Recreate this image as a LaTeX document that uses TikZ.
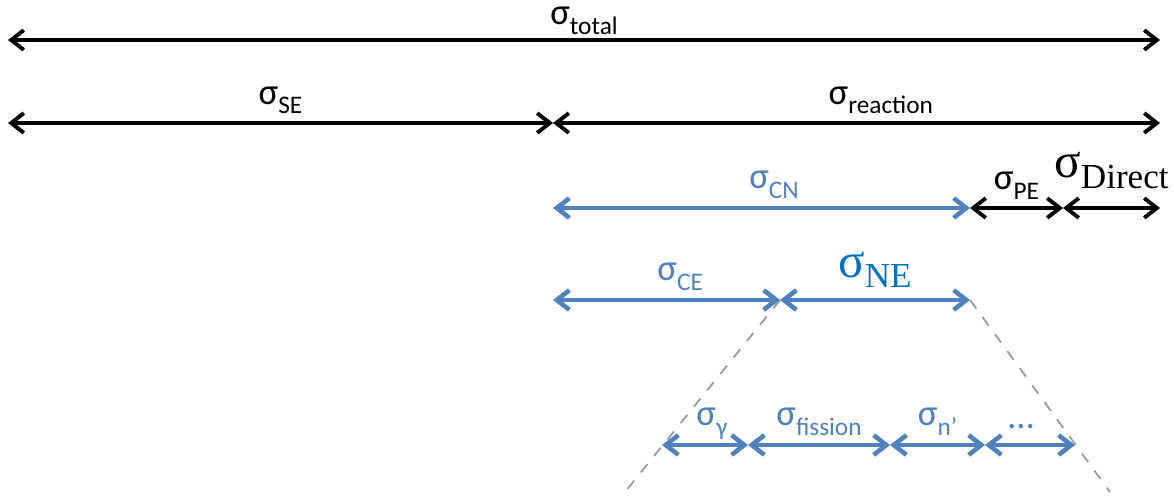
\documentclass[tikz,border=0pt]{standalone}
\usepackage{fontspec}
\setmainfont{Carlito}
\newfontfamily\serifsig{Liberation Serif}
\usetikzlibrary{arrows.meta}
\definecolor{xsblue}{HTML}{4F81BD}
\definecolor{neblue}{HTML}{0070C0}
\newcommand{\xs}[1]{σ\raisebox{-0.55ex}{\fontsize{7.2}{8}\selectfont #1}}
\newcommand{\xsserif}[1]{{\serifsig\fontsize{14}{16}\selectfont σ\raisebox{-0.45ex}{\fontsize{10}{12}\selectfont #1}}}

\begin{document}
\begin{tikzpicture} [x=0.01cm,y=-0.01cm,line width=1.1pt,
    every node/.style={font=\fontsize{10.5}{12}\selectfont,inner sep=1pt},
    span/.style={{Straight Barb[length=3.6pt,width=5.6pt]}-{Straight Barb[length=3.6pt,width=5.6pt]}},
    blk/.style={span,black},
    blu/.style={span,xsblue,line width=1.3pt},
    guide/.style={dashed,gray!80,line width=0.5pt}]
  \useasboundingbox (0,0) rectangle (1174,497);

  % end points of the spans
  \coordinate (t1) at (8,40);    \coordinate (t2) at (1160,40);
  \coordinate (r1) at (8,123);   \coordinate (r2) at (553,123);  \coordinate (r3) at (1160,123);
  \coordinate (c1) at (553,208); \coordinate (c2) at (970,208);  \coordinate (c3) at (1063,208); \coordinate (c4) at (1160,208);
  \coordinate (e1) at (553,300); \coordinate (e2) at (780,300);  \coordinate (e3) at (970,300);
  \coordinate (f1) at (662,445); \coordinate (f2) at (748,445);  \coordinate (f3) at (890,445);
  \coordinate (f4) at (985,445); \coordinate (f5) at (1075,445);
  \coordinate (g1) at (625,492); \coordinate (g2) at (1110,492);

  \path[guide]
    (e2) edge (g1)
    (e3) edge (g2);

  \path
    (t1) edge[blk] node [above=0pt] {\xs{total}} (t2)
    (r1) edge[blk] node [above=1pt] {\xs{SE}} (r2)
    (r2) edge[blk] node [above=1pt,pos=0.54] {\xs{reaction}} (r3)
    (c1) edge[blu] node [above=1pt,pos=0.53] {\xs{CN}} (c2)
    (c2) edge[blk] node [above=1pt] {\xs{PE}} (c3)
    (c3) edge[blk] node [above=4pt] {\xsserif{Direct}} (c4)
    (e1) edge[blu] node [above=1pt,pos=0.56] {\xs{CE}} (e2)
    (e2) edge[blu] node [above=2pt,text=neblue] {\xsserif{NE}} (e3)
    (f1) edge[blu] node [above=0pt,pos=0.58] {\xs{γ}} (f2)
    (f2) edge[blu] node [above=1pt] {\xs{fission}} (f3)
    (f3) edge[blu] node [above=1pt] {\xs{n’}} (f4)
    (f4) edge[blu] node [above=3pt,pos=0.4] {…} (f5);
\end{tikzpicture}
\end{document}
